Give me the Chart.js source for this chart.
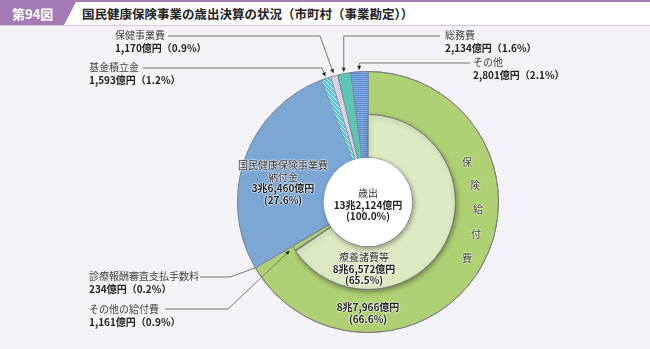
<!DOCTYPE html>
<html>
<head>
<meta charset="utf-8">
<script src="https://cdn.jsdelivr.net/npm/chart.js@4/dist/chart.umd.min.js"></script>
<style>
  html, body { margin: 0; padding: 0; }
  body { width: 650px; height: 349px; background: #f4f4f8; position: relative; overflow: hidden;
         font-family: "Noto Sans CJK JP", "Noto Sans", sans-serif; color: #333; }
  #c { position: absolute; left: 0; top: 0; }
  .band { position: absolute; left: 0; top: 0; width: 650px; height: 23px; background: #fff;
          border-top: 2px solid #a57bb6; border-bottom: 1px solid #d6c6dd; }
  .fig { position: absolute; left: 0; top: 0; width: 76px; height: 23px; background: #a57bb6;
         clip-path: polygon(0 0, 76px 0, 64px 23px, 0 23px); color: #fff; font-weight: bold;
         font-size: 13px; line-height: 23px; padding-left: 12px; box-sizing: border-box; }
  .ttl { position: absolute; left: 82px; top: 0; font-size: 12.5px; line-height: 23px; color: #222; font-weight: bold; }
  .lbl { position: absolute; font-size: 10px; line-height: 12.5px; white-space: nowrap; color: #444; }
  .lbl b { color: #222; }
  .in { position: absolute; font-size: 10px; line-height: 11.5px; white-space: nowrap; color: #333;
        text-align: center; transform: translateX(-50%);
        text-shadow: 0 0 2px #fff, 0 0 2px #fff, 0 0 1px #fff; }
  .in b { color: #222; }
  .vch { position: absolute; font-size: 10px; line-height: 10px; color: #444; transform: translate(-50%, -50%);
         text-shadow: 0 0 2px #fff, 0 0 2px #fff; }
</style>
</head>
<body>
<div class="band"><div class="fig">第94図</div><div class="ttl">国民健康保険事業の歳出決算の状況（市町村（事業勘定））</div></div>
<canvas id="c" width="650" height="349"></canvas>
<script>
// 億円
var outerLabels = ['保険給付費', '国民健康保険事業費納付金', '基金積立金', '保健事業費', '総務費', 'その他'];
var outerValues = [87966, 36460, 1593, 1170, 2134, 2801];
var outerPct = [66.6, 27.6, 1.2, 0.9, 1.6, 2.1];

var innerLabels = ['療養諸費等', '診療報酬審査支払手数料', 'その他の給付費', '国民健康保険事業費納付金', '基金積立金', '保健事業費', '総務費', 'その他'];
var innerValues = [86572, 234, 1161, 36460, 1593, 1170, 2134, 2801];
var innerPct = [65.5, 0.2, 0.9, 27.6, 1.2, 0.9, 1.6, 2.1];

var totalLabel = '歳出';
var totalValue = 132124;
var totalPct = 100.0;

/* small pattern tiles */
function makePattern(size, draw) {
    var cv = document.createElement('canvas');
    cv.width = size; cv.height = size;
    var g = cv.getContext('2d');
    draw(g, size);
    return document.createElement('canvas').getContext('2d').createPattern(cv, 'repeat');
}
var kikinPat = makePattern(4, function(g, s) {
    g.fillStyle = '#55c6df'; g.fillRect(0, 0, s, s);
    g.fillStyle = 'rgba(255,255,255,0.85)';
    for (var i = 0; i < s; i++) g.fillRect(i, i, 1, 1);
});
var hokenPat = makePattern(2, function(g, s) {
    g.fillStyle = '#cdb1de'; g.fillRect(0, 0, s, s);
    g.fillStyle = '#f3ecf6'; g.fillRect(0, 0, 1, 1); g.fillRect(1, 1, 1, 1);
});
var sonotaPat = makePattern(2, function(g, s) {
    g.fillStyle = '#5a8ed4'; g.fillRect(0, 0, s, s);
    g.fillStyle = '#86abe2'; g.fillRect(0, 0, s, 1);
});

var GREEN = '#aed173', LIGHT = '#dcebc2', BLUE = '#7ba7d5', TEAL = '#5cc5b3', EDGE = '#7d7d7d';
var restColors = [BLUE, kikinPat, hokenPat, TEAL, sonotaPat];

var outerColors = [GREEN].concat(restColors);
var outerBorders = [EDGE].concat(restColors);
var innerColors = [LIGHT, '#c6e09c', GREEN].concat(restColors);
var innerBorders = [EDGE, EDGE, EDGE].concat(restColors);

function oku(v) {
    var cho = Math.floor(v / 10000), r = v % 10000;
    if (!cho) return r.toLocaleString('en-US') + '億円';
    var s = String(r).padStart(4, '0');
    return cho + '兆' + s[0] + ',' + s.slice(1) + '億円';
}

/* leader lines: label side points, target taken from the arcs */
var leaders = [
    { pts: [[168, 36], [320, 36]], ring: 0, idx: 3, at: 'mid', dr: 3, arrow: true },
    { pts: [[143, 68], [322, 68]], ring: 0, idx: 2, at: 'mid', dr: 2, arrow: true },
    { pts: [[440, 36]], elbowY: 36, ring: 0, idx: 4, at: 'mid', dr: 2, arrow: true },
    { pts: [[470, 63]], elbowY: 63, ring: 0, idx: 5, at: 'mid', dr: 2, arrow: true },
    { pts: [[200, 277], [230, 277]], ring: 0, idx: 0, at: 'end', dr: 0, arrow: false },
    { pts: [[165, 309], [228, 309]], ring: 1, idx: 2, at: 'mid', dr: 5, arrow: true, fromOuter: true }
];

var ringExtras = {
    id: 'ringExtras',
    afterDatasetsDraw: function(chart) {
        var ctx = chart.ctx;
        var outer = chart.getDatasetMeta(0).data;
        var inner = chart.getDatasetMeta(1).data;
        var cx = outer[0].x, cy = outer[0].y;
        var R = outer[0].outerRadius, hole = inner[0].innerRadius;

        // soft shadow of the inner light green ring
        ctx.save();
        ctx.shadowColor = 'rgba(0,0,0,0.35)';
        ctx.shadowBlur = 5; ctx.shadowOffsetX = 1; ctx.shadowOffsetY = 2;
        inner[0].draw(ctx);
        ctx.restore();
        inner[1].draw(ctx); inner[2].draw(ctx);

        // radial separators + outline
        ctx.save();
        ctx.strokeStyle = EDGE; ctx.lineWidth = 0.8;
        outer.forEach(function(a) {
            ctx.beginPath();
            ctx.moveTo(cx + hole * Math.cos(a.startAngle), cy + hole * Math.sin(a.startAngle));
            ctx.lineTo(cx + R * Math.cos(a.startAngle), cy + R * Math.sin(a.startAngle));
            ctx.stroke();
        });
        ctx.beginPath(); ctx.arc(cx, cy, R, 0, Math.PI * 2); ctx.stroke();
        ctx.restore();

        // white centre
        ctx.save();
        ctx.shadowColor = 'rgba(0,0,0,0.35)';
        ctx.shadowBlur = 5; ctx.shadowOffsetX = 1; ctx.shadowOffsetY = 2;
        ctx.fillStyle = '#fff';
        ctx.beginPath(); ctx.arc(cx, cy, hole, 0, Math.PI * 2); ctx.fill();
        ctx.restore();

        // leaders
        ctx.save();
        ctx.strokeStyle = '#777'; ctx.fillStyle = '#222'; ctx.lineWidth = 1;
        leaders.forEach(function(l) {
            var arcs = l.ring === 0 ? outer : inner;
            var a = arcs[l.idx];
            var ang = l.at === 'end' ? a.endAngle : (a.startAngle + a.endAngle) / 2;
            var r = (l.fromOuter ? a.outerRadius : R) + l.dr;
            var tx = cx + r * Math.cos(ang), ty = cy + r * Math.sin(ang);
            var pts = l.pts.slice();
            if (l.elbowY !== undefined) pts.push([tx, l.elbowY]);
            pts.push([tx, ty]);
            ctx.beginPath();
            ctx.moveTo(pts[0][0], pts[0][1]);
            for (var i = 1; i < pts.length; i++) ctx.lineTo(pts[i][0], pts[i][1]);
            ctx.stroke();
            if (l.arrow) {
                var p = pts[pts.length - 2];
                var d = Math.atan2(ty - p[1], tx - p[0]);
                ctx.beginPath();
                ctx.moveTo(tx, ty);
                ctx.lineTo(tx - 4 * Math.cos(d) + 2 * Math.sin(d), ty - 4 * Math.sin(d) - 2 * Math.cos(d));
                ctx.lineTo(tx - 4 * Math.cos(d) - 2 * Math.sin(d), ty - 4 * Math.sin(d) + 2 * Math.cos(d));
                ctx.closePath(); ctx.fill();
            }
        });
        ctx.restore();
    }
};

var ctx = document.getElementById('c').getContext('2d');
var pie = new Chart(ctx, {
    type: 'doughnut',
    data: {
        labels: innerLabels,
        datasets: [{
            data: outerValues,
            backgroundColor: outerColors,
            borderColor: outerBorders,
            borderWidth: 1,
            hoverBorderWidth: 1
        }, {
            data: innerValues,
            backgroundColor: innerColors,
            borderColor: innerBorders,
            borderWidth: 1,
            hoverBorderWidth: 1
        }]
    },
    options: {
        responsive: false,
        animation: false,
        events: [],
        cutout: '34%',
        layout: { padding: { left: 237, right: 151, top: 71, bottom: 16 } },
        plugins: { legend: { display: false }, tooltip: { enabled: false } }
    },
    plugins: [ringExtras]
});

/* text */
function addDiv(cls, x, y, html) {
    var d = document.createElement('div');
    d.className = cls;
    d.style.left = x + 'px';
    d.style.top = y + 'px';
    d.innerHTML = html;
    document.body.appendChild(d);
}
function side(name, v, p) {
    return name + '<br><b>' + oku(v) + '（' + p.toFixed(1) + '%）</b>';
}
addDiv('lbl', 115, 29, side(outerLabels[3], outerValues[3], outerPct[3]));
addDiv('lbl', 89, 61, side(outerLabels[2], outerValues[2], outerPct[2]));
addDiv('lbl', 445, 29, side(outerLabels[4], outerValues[4], outerPct[4]));
addDiv('lbl', 473, 56, side(outerLabels[5], outerValues[5], outerPct[5]));
addDiv('lbl', 89, 270, side(innerLabels[1], innerValues[1], innerPct[1]));
addDiv('lbl', 89, 303, side(innerLabels[2], innerValues[2], innerPct[2]));

addDiv('in', 283, 159, '国民健康保険事業費<br>納付金<br><b>' + oku(outerValues[1]) + '</b><br><b>(' + outerPct[1].toFixed(1) + '%)</b>');
addDiv('in', 368, 187, totalLabel + '<br><b>' + oku(totalValue) + '</b><br><b>(' + totalPct.toFixed(1) + '%)</b>');
addDiv('in', 364, 251, innerLabels[0] + '<br><b>' + oku(innerValues[0]) + '</b><br><b>(' + innerPct[0].toFixed(1) + '%)</b>');
addDiv('in', 368, 301, '<b>' + oku(outerValues[0]) + '</b><br><b>(' + outerPct[0].toFixed(1) + '%)</b>');

var vpos = [[467, 162], [475, 185], [478, 209], [476, 234], [467, 258]];
outerLabels[0].split('').forEach(function(ch, i) {
    addDiv('vch', vpos[i][0], vpos[i][1], ch);
});
</script>
</body>
</html>
